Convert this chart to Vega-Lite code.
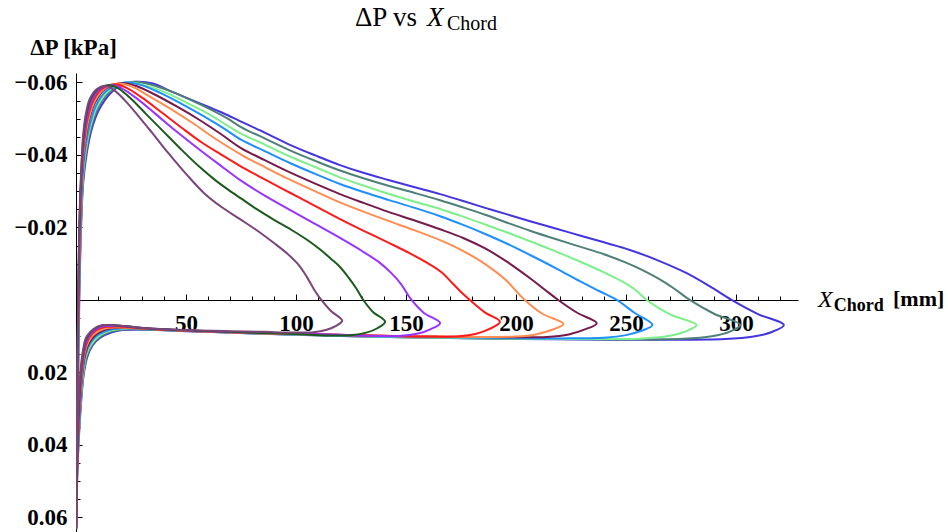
{
"$schema": "https://vega.github.io/schema/vega-lite/v6.json",
"width": 722, "height": 459,
"autosize": {"type": "none"},
"padding": {"left": 76, "top": 73, "right": 150, "bottom": 0},
"background": "white",
"config": {"view": {"stroke": null}, "axis": {"labelOverlap": false, "labelFlush": false, "grid": false}},
"resolve": {"axis": {"x": "independent", "y": "independent"}},
"datasets": {"curves": [
{"s":"a","x":0.1,"dp":0.063},{"s":"a","x":0.5,"dp":0.04},{"s":"a","x":1.0,"dp":0.02},{"s":"a","x":1.5,"dp":0.0},{"s":"a","x":2.3,"dp":-0.02},{"s":"a","x":3.3,"dp":-0.0325},{"s":"a","x":4.9,"dp":-0.0405},{"s":"a","x":7.1,"dp":-0.047},{"s":"a","x":10.5,"dp":-0.0525},{"s":"a","x":16,"dp":-0.0572},{"s":"a","x":21,"dp":-0.0594},{"s":"a","x":27.6,"dp":-0.0602},{"s":"a","x":35,"dp":-0.0597},{"s":"a","x":43,"dp":-0.0576},{"s":"a","x":50,"dp":-0.0558},{"s":"a","x":58,"dp":-0.0538},{"s":"a","x":67,"dp":-0.0515},{"s":"a","x":75,"dp":-0.0492},{"s":"a","x":86,"dp":-0.0461},{"s":"a","x":97.5,"dp":-0.0427},{"s":"a","x":109,"dp":-0.0398},{"s":"a","x":120,"dp":-0.0372},{"s":"a","x":131,"dp":-0.035},{"s":"a","x":142,"dp":-0.0331},{"s":"a","x":154,"dp":-0.0311},{"s":"a","x":165.5,"dp":-0.0292},{"s":"a","x":176,"dp":-0.0273},{"s":"a","x":186,"dp":-0.0254},{"s":"a","x":196,"dp":-0.0236},{"s":"a","x":206.4,"dp":-0.0217},{"s":"a","x":218,"dp":-0.0197},{"s":"a","x":229,"dp":-0.0178},{"s":"a","x":240,"dp":-0.0159},{"s":"a","x":251.8,"dp":-0.0138},{"s":"a","x":265,"dp":-0.0108},{"s":"a","x":277.6,"dp":-0.0074},{"s":"a","x":288,"dp":-0.0038},{"s":"a","x":298,"dp":0.0},{"s":"a","x":310,"dp":0.0039},{"s":"a","x":321.8,"dp":0.0069},
{"s":"a","x":316,"dp":0.0089},{"s":"a","x":308,"dp":0.0101},{"s":"a","x":295,"dp":0.0108},{"s":"a","x":265,"dp":0.011},{"s":"a","x":230,"dp":0.0109},{"s":"a","x":195,"dp":0.0107},{"s":"a","x":160,"dp":0.0104},{"s":"a","x":125,"dp":0.01},{"s":"a","x":95,"dp":0.0095},{"s":"a","x":70,"dp":0.009},{"s":"a","x":50,"dp":0.0086},{"s":"a","x":37,"dp":0.0083},{"s":"a","x":28,"dp":0.0082},{"s":"a","x":21,"dp":0.0083},{"s":"a","x":16,"dp":0.009},{"s":"a","x":11,"dp":0.0104},{"s":"a","x":7.6,"dp":0.0125},{"s":"a","x":5.2,"dp":0.0156},{"s":"a","x":3.5,"dp":0.0206},{"s":"a","x":2.4,"dp":0.0276},{"s":"a","x":1.35,"dp":0.0376},{"s":"a","x":0.6,"dp":0.048},{"s":"a","x":0.1,"dp":0.063},

{"s":"b","x":0.1,"dp":0.063},{"s":"b","x":0.5,"dp":0.04},{"s":"b","x":0.95,"dp":0.02},{"s":"b","x":1.4,"dp":0.0},{"s":"b","x":2.2,"dp":-0.02},{"s":"b","x":3.2,"dp":-0.033},{"s":"b","x":4.7,"dp":-0.041},{"s":"b","x":6.8,"dp":-0.0474},{"s":"b","x":10,"dp":-0.053},{"s":"b","x":15.5,"dp":-0.0575},{"s":"b","x":25,"dp":-0.0601},{"s":"b","x":32,"dp":-0.0597},{"s":"b","x":42,"dp":-0.0578},{"s":"b","x":52,"dp":-0.0552},{"s":"b","x":62,"dp":-0.0523},{"s":"b","x":69,"dp":-0.05},{"s":"b","x":75,"dp":-0.0477},{"s":"b","x":86,"dp":-0.0445},{"s":"b","x":97.5,"dp":-0.0412},{"s":"b","x":109,"dp":-0.0383},{"s":"b","x":120,"dp":-0.0357},{"s":"b","x":131,"dp":-0.0335},{"s":"b","x":142,"dp":-0.0315},{"s":"b","x":154,"dp":-0.0295},{"s":"b","x":165.5,"dp":-0.0275},{"s":"b","x":176,"dp":-0.0255},{"s":"b","x":186,"dp":-0.0235},{"s":"b","x":196,"dp":-0.0213},{"s":"b","x":206.4,"dp":-0.0191},{"s":"b","x":218,"dp":-0.0168},{"s":"b","x":229,"dp":-0.0147},{"s":"b","x":240,"dp":-0.0126},{"s":"b","x":250,"dp":-0.0103},{"s":"b","x":258,"dp":-0.0081},{"s":"b","x":265,"dp":-0.0058},{"s":"b","x":272,"dp":-0.0031},{"s":"b","x":279,"dp":0.0},{"s":"b","x":290,"dp":0.0038},{"s":"b","x":302,"dp":0.0069},
{"s":"b","x":297,"dp":0.0088},{"s":"b","x":289,"dp":0.01},{"s":"b","x":276,"dp":0.0107},{"s":"b","x":250,"dp":0.0109},{"s":"b","x":220,"dp":0.0108},{"s":"b","x":185,"dp":0.0106},{"s":"b","x":150,"dp":0.0103},{"s":"b","x":120,"dp":0.0099},{"s":"b","x":90,"dp":0.0094},{"s":"b","x":66,"dp":0.0089},{"s":"b","x":48,"dp":0.0085},{"s":"b","x":35,"dp":0.0082},{"s":"b","x":26,"dp":0.0081},{"s":"b","x":20,"dp":0.0082},{"s":"b","x":15,"dp":0.0089},{"s":"b","x":10.5,"dp":0.0103},{"s":"b","x":7.3,"dp":0.0124},{"s":"b","x":5,"dp":0.0154},{"s":"b","x":3.4,"dp":0.0204},{"s":"b","x":2.3,"dp":0.0274},{"s":"b","x":1.3,"dp":0.0374},{"s":"b","x":0.55,"dp":0.048},{"s":"b","x":0.1,"dp":0.063},

{"s":"c","x":0.1,"dp":0.063},{"s":"c","x":0.45,"dp":0.04},{"s":"c","x":0.9,"dp":0.02},{"s":"c","x":1.35,"dp":0.0},{"s":"c","x":2.1,"dp":-0.02},{"s":"c","x":3.1,"dp":-0.0335},{"s":"c","x":4.5,"dp":-0.0415},{"s":"c","x":6.5,"dp":-0.0478},{"s":"c","x":9.5,"dp":-0.0532},{"s":"c","x":14.5,"dp":-0.0575},{"s":"c","x":23,"dp":-0.06},{"s":"c","x":30,"dp":-0.0594},{"s":"c","x":40,"dp":-0.0574},{"s":"c","x":50,"dp":-0.0545},{"s":"c","x":60,"dp":-0.0514},{"s":"c","x":68,"dp":-0.0484},{"s":"c","x":75,"dp":-0.0459},{"s":"c","x":86,"dp":-0.0428},{"s":"c","x":97.5,"dp":-0.0395},{"s":"c","x":109,"dp":-0.0366},{"s":"c","x":120,"dp":-0.0338},{"s":"c","x":131,"dp":-0.0315},{"s":"c","x":142,"dp":-0.0293},{"s":"c","x":154,"dp":-0.0271},{"s":"c","x":165.5,"dp":-0.0251},{"s":"c","x":176,"dp":-0.023},{"s":"c","x":186,"dp":-0.0208},{"s":"c","x":196,"dp":-0.0186},{"s":"c","x":206.4,"dp":-0.0162},{"s":"c","x":218,"dp":-0.0134},{"s":"c","x":229,"dp":-0.0106},{"s":"c","x":240,"dp":-0.0076},{"s":"c","x":248,"dp":-0.0052},{"s":"c","x":254,"dp":-0.0029},{"s":"c","x":259.4,"dp":0.0},{"s":"c","x":270,"dp":0.004},{"s":"c","x":282.1,"dp":0.0069},
{"s":"c","x":277,"dp":0.0087},{"s":"c","x":270,"dp":0.0099},{"s":"c","x":258,"dp":0.0106},{"s":"c","x":235,"dp":0.0108},{"s":"c","x":205,"dp":0.0107},{"s":"c","x":175,"dp":0.0105},{"s":"c","x":145,"dp":0.0102},{"s":"c","x":115,"dp":0.0098},{"s":"c","x":88,"dp":0.0093},{"s":"c","x":64,"dp":0.0088},{"s":"c","x":46,"dp":0.0084},{"s":"c","x":34,"dp":0.0081},{"s":"c","x":25,"dp":0.008},{"s":"c","x":19,"dp":0.0081},{"s":"c","x":14,"dp":0.0088},{"s":"c","x":10,"dp":0.0102},{"s":"c","x":7,"dp":0.0122},{"s":"c","x":4.7,"dp":0.0152},{"s":"c","x":3.3,"dp":0.0202},{"s":"c","x":2.2,"dp":0.0272},{"s":"c","x":1.25,"dp":0.0372},{"s":"c","x":0.55,"dp":0.048},{"s":"c","x":0.1,"dp":0.063},

{"s":"d","x":0.1,"dp":0.063},{"s":"d","x":0.45,"dp":0.04},{"s":"d","x":0.85,"dp":0.02},{"s":"d","x":1.3,"dp":0.0},{"s":"d","x":2,"dp":-0.02},{"s":"d","x":3,"dp":-0.034},{"s":"d","x":4.3,"dp":-0.042},{"s":"d","x":6.2,"dp":-0.0482},{"s":"d","x":9,"dp":-0.0535},{"s":"d","x":13.5,"dp":-0.0575},{"s":"d","x":22,"dp":-0.06},{"s":"d","x":29,"dp":-0.0594},{"s":"d","x":38,"dp":-0.0572},{"s":"d","x":48,"dp":-0.0541},{"s":"d","x":58,"dp":-0.0507},{"s":"d","x":67,"dp":-0.0474},{"s":"d","x":75,"dp":-0.0442},{"s":"d","x":86,"dp":-0.041},{"s":"d","x":97.5,"dp":-0.0377},{"s":"d","x":109,"dp":-0.0347},{"s":"d","x":120,"dp":-0.032},{"s":"d","x":131,"dp":-0.0297},{"s":"d","x":142,"dp":-0.0276},{"s":"d","x":154,"dp":-0.0254},{"s":"d","x":165.5,"dp":-0.0231},{"s":"d","x":176,"dp":-0.0207},{"s":"d","x":186,"dp":-0.0182},{"s":"d","x":196,"dp":-0.0155},{"s":"d","x":206.4,"dp":-0.0124},{"s":"d","x":218,"dp":-0.0088},{"s":"d","x":229,"dp":-0.0052},{"s":"d","x":238,"dp":-0.0024},{"s":"d","x":245.8,"dp":0.0},{"s":"d","x":254,"dp":0.0036},{"s":"d","x":262,"dp":0.0069},
{"s":"d","x":257,"dp":0.0085},{"s":"d","x":250,"dp":0.0097},{"s":"d","x":240,"dp":0.0104},{"s":"d","x":220,"dp":0.0106},{"s":"d","x":195,"dp":0.0105},{"s":"d","x":165,"dp":0.0103},{"s":"d","x":135,"dp":0.01},{"s":"d","x":105,"dp":0.0096},{"s":"d","x":80,"dp":0.0092},{"s":"d","x":58,"dp":0.0087},{"s":"d","x":42,"dp":0.0083},{"s":"d","x":31,"dp":0.008},{"s":"d","x":23,"dp":0.0079},{"s":"d","x":17,"dp":0.008},{"s":"d","x":13,"dp":0.0087},{"s":"d","x":9.2,"dp":0.01},{"s":"d","x":6.4,"dp":0.012},{"s":"d","x":4.4,"dp":0.015},{"s":"d","x":3.1,"dp":0.02},{"s":"d","x":2.1,"dp":0.027},{"s":"d","x":1.2,"dp":0.037},{"s":"d","x":0.5,"dp":0.048},{"s":"d","x":0.1,"dp":0.063},

{"s":"e","x":0.1,"dp":0.063},{"s":"e","x":0.4,"dp":0.04},{"s":"e","x":0.8,"dp":0.02},{"s":"e","x":1.2,"dp":0.0},{"s":"e","x":1.9,"dp":-0.02},{"s":"e","x":2.8,"dp":-0.035},{"s":"e","x":4,"dp":-0.0428},{"s":"e","x":5.7,"dp":-0.049},{"s":"e","x":8.3,"dp":-0.054},{"s":"e","x":12.5,"dp":-0.0578},{"s":"e","x":20,"dp":-0.0598},{"s":"e","x":27,"dp":-0.0591},{"s":"e","x":36,"dp":-0.0566},{"s":"e","x":46,"dp":-0.0533},{"s":"e","x":56,"dp":-0.0497},{"s":"e","x":66,"dp":-0.0457},{"s":"e","x":75,"dp":-0.0419},{"s":"e","x":86,"dp":-0.0385},{"s":"e","x":97.5,"dp":-0.0351},{"s":"e","x":109,"dp":-0.032},{"s":"e","x":120,"dp":-0.0292},{"s":"e","x":131,"dp":-0.0267},{"s":"e","x":142,"dp":-0.0243},{"s":"e","x":154,"dp":-0.0219},{"s":"e","x":165.5,"dp":-0.0195},{"s":"e","x":176,"dp":-0.0171},{"s":"e","x":186,"dp":-0.0142},{"s":"e","x":196,"dp":-0.0105},{"s":"e","x":206.4,"dp":-0.006},{"s":"e","x":213,"dp":-0.0029},{"s":"e","x":219.2,"dp":0.0},{"s":"e","x":228,"dp":0.0036},{"s":"e","x":236.7,"dp":0.0064},
{"s":"e","x":231,"dp":0.0082},{"s":"e","x":224,"dp":0.0095},{"s":"e","x":214,"dp":0.0102},{"s":"e","x":198,"dp":0.0103},{"s":"e","x":175,"dp":0.0102},{"s":"e","x":150,"dp":0.01},{"s":"e","x":125,"dp":0.0097},{"s":"e","x":100,"dp":0.0094},{"s":"e","x":75,"dp":0.009},{"s":"e","x":55,"dp":0.0086},{"s":"e","x":40,"dp":0.0082},{"s":"e","x":30,"dp":0.0079},{"s":"e","x":22,"dp":0.0077},{"s":"e","x":16,"dp":0.0078},{"s":"e","x":12,"dp":0.0085},{"s":"e","x":8.6,"dp":0.0098},{"s":"e","x":6,"dp":0.0118},{"s":"e","x":4.2,"dp":0.0148},{"s":"e","x":2.9,"dp":0.0198},{"s":"e","x":2,"dp":0.0268},{"s":"e","x":1.1,"dp":0.0368},{"s":"e","x":0.5,"dp":0.048},{"s":"e","x":0.1,"dp":0.063},

{"s":"f","x":0.1,"dp":0.063},{"s":"f","x":0.4,"dp":0.04},{"s":"f","x":0.75,"dp":0.02},{"s":"f","x":1.15,"dp":0.0},{"s":"f","x":1.8,"dp":-0.02},{"s":"f","x":2.7,"dp":-0.035},{"s":"f","x":3.9,"dp":-0.043},{"s":"f","x":5.5,"dp":-0.0492},{"s":"f","x":8,"dp":-0.0542},{"s":"f","x":12,"dp":-0.0578},{"s":"f","x":19,"dp":-0.0597},{"s":"f","x":25,"dp":-0.059},{"s":"f","x":33,"dp":-0.0563},{"s":"f","x":43,"dp":-0.0527},{"s":"f","x":53,"dp":-0.0488},{"s":"f","x":63,"dp":-0.0446},{"s":"f","x":75,"dp":-0.0401},{"s":"f","x":86,"dp":-0.0366},{"s":"f","x":97.5,"dp":-0.0331},{"s":"f","x":109,"dp":-0.0299},{"s":"f","x":120,"dp":-0.0269},{"s":"f","x":131,"dp":-0.0243},{"s":"f","x":142,"dp":-0.0218},{"s":"f","x":154,"dp":-0.0192},{"s":"f","x":165.5,"dp":-0.0165},{"s":"f","x":176,"dp":-0.0135},{"s":"f","x":186,"dp":-0.0099},{"s":"f","x":195,"dp":-0.0057},{"s":"f","x":204,"dp":0.0},{"s":"f","x":212,"dp":0.0038},{"s":"f","x":221.5,"dp":0.0066},
{"s":"f","x":216,"dp":0.0083},{"s":"f","x":209,"dp":0.0095},{"s":"f","x":200,"dp":0.0101},{"s":"f","x":185,"dp":0.0102},{"s":"f","x":165,"dp":0.0101},{"s":"f","x":140,"dp":0.0099},{"s":"f","x":115,"dp":0.0096},{"s":"f","x":90,"dp":0.0093},{"s":"f","x":70,"dp":0.009},{"s":"f","x":50,"dp":0.0085},{"s":"f","x":36,"dp":0.0081},{"s":"f","x":27,"dp":0.0078},{"s":"f","x":20,"dp":0.0076},{"s":"f","x":15,"dp":0.0077},{"s":"f","x":11,"dp":0.0084},{"s":"f","x":8,"dp":0.0096},{"s":"f","x":5.7,"dp":0.0115},{"s":"f","x":4,"dp":0.0145},{"s":"f","x":2.8,"dp":0.0195},{"s":"f","x":1.9,"dp":0.0265},{"s":"f","x":1.05,"dp":0.0365},{"s":"f","x":0.45,"dp":0.048},{"s":"f","x":0.1,"dp":0.063},

{"s":"g","x":0.1,"dp":0.063},{"s":"g","x":0.35,"dp":0.04},{"s":"g","x":0.7,"dp":0.02},{"s":"g","x":1.1,"dp":0.0},{"s":"g","x":1.7,"dp":-0.02},{"s":"g","x":2.6,"dp":-0.035},{"s":"g","x":3.7,"dp":-0.0435},{"s":"g","x":5.2,"dp":-0.0498},{"s":"g","x":7.5,"dp":-0.0545},{"s":"g","x":11,"dp":-0.0578},{"s":"g","x":17.5,"dp":-0.0595},{"s":"g","x":23,"dp":-0.0585},{"s":"g","x":30,"dp":-0.0558},{"s":"g","x":39,"dp":-0.0517},{"s":"g","x":48,"dp":-0.0475},{"s":"g","x":57,"dp":-0.0435},{"s":"g","x":66,"dp":-0.0401},{"s":"g","x":75,"dp":-0.0368},{"s":"g","x":86,"dp":-0.0332},{"s":"g","x":97.5,"dp":-0.0295},{"s":"g","x":109,"dp":-0.0258},{"s":"g","x":120,"dp":-0.0223},{"s":"g","x":131,"dp":-0.019},{"s":"g","x":142,"dp":-0.0158},{"s":"g","x":152,"dp":-0.0128},{"s":"g","x":160,"dp":-0.0101},{"s":"g","x":166,"dp":-0.0077},{"s":"g","x":171,"dp":-0.0047},{"s":"g","x":175.5,"dp":-0.0019},{"s":"g","x":179,"dp":0.0},{"s":"g","x":186,"dp":0.0035},{"s":"g","x":192.7,"dp":0.006},
{"s":"g","x":188,"dp":0.008},{"s":"g","x":182,"dp":0.0093},{"s":"g","x":174,"dp":0.01},{"s":"g","x":160,"dp":0.0101},{"s":"g","x":140,"dp":0.0099},{"s":"g","x":120,"dp":0.0096},{"s":"g","x":100,"dp":0.0093},{"s":"g","x":80,"dp":0.009},{"s":"g","x":60,"dp":0.0086},{"s":"g","x":45,"dp":0.0083},{"s":"g","x":33,"dp":0.0079},{"s":"g","x":25,"dp":0.0076},{"s":"g","x":19,"dp":0.0073},{"s":"g","x":14,"dp":0.0074},{"s":"g","x":10,"dp":0.0081},{"s":"g","x":7.4,"dp":0.0093},{"s":"g","x":5.3,"dp":0.0112},{"s":"g","x":3.8,"dp":0.0142},{"s":"g","x":2.7,"dp":0.0192},{"s":"g","x":1.8,"dp":0.0262},{"s":"g","x":1,"dp":0.0362},{"s":"g","x":0.45,"dp":0.048},{"s":"g","x":0.1,"dp":0.063},

{"s":"h","x":0.1,"dp":0.063},{"s":"h","x":0.35,"dp":0.04},{"s":"h","x":0.65,"dp":0.02},{"s":"h","x":1.05,"dp":0.0},{"s":"h","x":1.6,"dp":-0.02},{"s":"h","x":2.5,"dp":-0.035},{"s":"h","x":3.5,"dp":-0.044},{"s":"h","x":4.9,"dp":-0.0502},{"s":"h","x":7,"dp":-0.0548},{"s":"h","x":10.5,"dp":-0.058},{"s":"h","x":16,"dp":-0.0593},{"s":"h","x":21,"dp":-0.0583},{"s":"h","x":28,"dp":-0.0554},{"s":"h","x":36,"dp":-0.0514},{"s":"h","x":45,"dp":-0.0468},{"s":"h","x":55,"dp":-0.042},{"s":"h","x":65,"dp":-0.0374},{"s":"h","x":75,"dp":-0.0329},{"s":"h","x":86,"dp":-0.0287},{"s":"h","x":97,"dp":-0.0249},{"s":"h","x":108,"dp":-0.0212},{"s":"h","x":120,"dp":-0.0171},{"s":"h","x":130,"dp":-0.0135},{"s":"h","x":138,"dp":-0.0103},{"s":"h","x":143,"dp":-0.0076},{"s":"h","x":147.5,"dp":-0.0046},{"s":"h","x":152.5,"dp":0.0},{"s":"h","x":158,"dp":0.0035},{"s":"h","x":165.5,"dp":0.0064},
{"s":"h","x":161,"dp":0.0081},{"s":"h","x":156,"dp":0.0092},{"s":"h","x":148,"dp":0.0099},{"s":"h","x":135,"dp":0.0099},{"s":"h","x":120,"dp":0.0096},{"s":"h","x":100,"dp":0.0093},{"s":"h","x":80,"dp":0.009},{"s":"h","x":60,"dp":0.0086},{"s":"h","x":45,"dp":0.0082},{"s":"h","x":32,"dp":0.0078},{"s":"h","x":24,"dp":0.0074},{"s":"h","x":18,"dp":0.0071},{"s":"h","x":13,"dp":0.0072},{"s":"h","x":9.5,"dp":0.0079},{"s":"h","x":7,"dp":0.0091},{"s":"h","x":5,"dp":0.011},{"s":"h","x":3.6,"dp":0.014},{"s":"h","x":2.5,"dp":0.019},{"s":"h","x":1.7,"dp":0.026},{"s":"h","x":0.95,"dp":0.036},{"s":"h","x":0.4,"dp":0.048},{"s":"h","x":0.1,"dp":0.063},

{"s":"i","x":0.1,"dp":0.063},{"s":"i","x":0.3,"dp":0.04},{"s":"i","x":0.6,"dp":0.02},{"s":"i","x":1.0,"dp":0.0},{"s":"i","x":1.5,"dp":-0.02},{"s":"i","x":2.4,"dp":-0.035},{"s":"i","x":3.3,"dp":-0.0445},{"s":"i","x":4.6,"dp":-0.0508},{"s":"i","x":6.6,"dp":-0.0553},{"s":"i","x":10,"dp":-0.0582},{"s":"i","x":15,"dp":-0.0592},{"s":"i","x":19,"dp":-0.0584},{"s":"i","x":25,"dp":-0.0555},{"s":"i","x":32,"dp":-0.0512},{"s":"i","x":40,"dp":-0.0463},{"s":"i","x":48,"dp":-0.0414},{"s":"i","x":56,"dp":-0.0368},{"s":"i","x":63,"dp":-0.0332},{"s":"i","x":69,"dp":-0.0305},{"s":"i","x":75,"dp":-0.028},{"s":"i","x":82,"dp":-0.0251},{"s":"i","x":90,"dp":-0.0221},{"s":"i","x":98,"dp":-0.0193},{"s":"i","x":105,"dp":-0.0166},{"s":"i","x":111,"dp":-0.0139},{"s":"i","x":116,"dp":-0.0113},{"s":"i","x":120,"dp":-0.0091},{"s":"i","x":124,"dp":-0.0061},{"s":"i","x":127.5,"dp":-0.0031},{"s":"i","x":130.6,"dp":0.0},{"s":"i","x":135,"dp":0.0033},{"s":"i","x":140.5,"dp":0.006},
{"s":"i","x":137,"dp":0.0078},{"s":"i","x":132,"dp":0.009},{"s":"i","x":125,"dp":0.0097},{"s":"i","x":115,"dp":0.0098},{"s":"i","x":100,"dp":0.0094},{"s":"i","x":85,"dp":0.0091},{"s":"i","x":70,"dp":0.0088},{"s":"i","x":55,"dp":0.0085},{"s":"i","x":40,"dp":0.0081},{"s":"i","x":30,"dp":0.0077},{"s":"i","x":22,"dp":0.0072},{"s":"i","x":16,"dp":0.0069},{"s":"i","x":12,"dp":0.007},{"s":"i","x":9,"dp":0.0077},{"s":"i","x":6.6,"dp":0.0089},{"s":"i","x":4.6,"dp":0.0108},{"s":"i","x":3.4,"dp":0.0138},{"s":"i","x":2.4,"dp":0.0185},{"s":"i","x":1.6,"dp":0.0255},{"s":"i","x":0.9,"dp":0.0355},{"s":"i","x":0.35,"dp":0.048},{"s":"i","x":0.05,"dp":0.063},

{"s":"j","x":0.1,"dp":0.063},{"s":"j","x":0.3,"dp":0.04},{"s":"j","x":0.6,"dp":0.02},{"s":"j","x":1.0,"dp":0.0},{"s":"j","x":1.5,"dp":-0.02},{"s":"j","x":2.3,"dp":-0.035},{"s":"j","x":3.2,"dp":-0.045},{"s":"j","x":4.4,"dp":-0.051},{"s":"j","x":6.3,"dp":-0.0555},{"s":"j","x":9.5,"dp":-0.0582},{"s":"j","x":13.5,"dp":-0.059},{"s":"j","x":17,"dp":-0.058},{"s":"j","x":22,"dp":-0.0552},{"s":"j","x":28,"dp":-0.051},{"s":"j","x":35,"dp":-0.0458},{"s":"j","x":42,"dp":-0.0405},{"s":"j","x":50,"dp":-0.0348},{"s":"j","x":58,"dp":-0.0296},{"s":"j","x":66,"dp":-0.0257},{"s":"j","x":74,"dp":-0.0225},{"s":"j","x":82,"dp":-0.0193},{"s":"j","x":90,"dp":-0.0157},{"s":"j","x":96,"dp":-0.0128},{"s":"j","x":101,"dp":-0.0098},{"s":"j","x":105,"dp":-0.0063},{"s":"j","x":108.5,"dp":-0.0026},{"s":"j","x":111.5,"dp":0.0},{"s":"j","x":116,"dp":0.0031},{"s":"j","x":121,"dp":0.0057},
{"s":"j","x":118,"dp":0.0072},{"s":"j","x":114,"dp":0.0082},{"s":"j","x":108,"dp":0.0089},{"s":"j","x":100,"dp":0.009},{"s":"j","x":85,"dp":0.0088},{"s":"j","x":70,"dp":0.0086},{"s":"j","x":55,"dp":0.0084},{"s":"j","x":40,"dp":0.0081},{"s":"j","x":30,"dp":0.0077},{"s":"j","x":22,"dp":0.0072},{"s":"j","x":16,"dp":0.0069},{"s":"j","x":12,"dp":0.007},{"s":"j","x":9,"dp":0.0076},{"s":"j","x":6.5,"dp":0.0088},{"s":"j","x":4.5,"dp":0.0105},{"s":"j","x":3.3,"dp":0.0135},{"s":"j","x":2.3,"dp":0.018},{"s":"j","x":1.5,"dp":0.025},{"s":"j","x":0.8,"dp":0.035},{"s":"j","x":0.3,"dp":0.048},{"s":"j","x":0,"dp":0.063}
]},
"layer": [
{
"data": {"name": "curves"},
"mark": {"type": "line", "strokeWidth": 2, "clip": true, "interpolate": "catmull-rom"},
"encoding": {
"x": {"field": "x", "type": "quantitative",
 "scale": {"domain": [0, 328.2], "nice": false, "zero": false},
 "axis": {"orient": "bottom", "offset": -232, "title": null, "labels": false,
  "values": [10,20,30,40,60,70,80,90,110,120,130,140,160,170,180,190,210,220,230,240,260,270,280,290,310,320],
  "tickSize": -4, "tickColor": "black", "domainColor": "black", "domainWidth": 1}},
"y": {"field": "dp", "type": "quantitative",
 "scale": {"domain": [-0.0626, 0.064], "reverse": true, "nice": false, "zero": false},
 "axis": {"orient": "left", "labels": false,
  "values": [-0.055,-0.05,-0.045,-0.035,-0.03,-0.025,-0.015,-0.01,-0.005,0.005,0.01,0.015,0.025,0.03,0.035,0.045,0.05,0.055],
  "tickSize": -4, "tickColor": "black", "domainColor": "black", "domainWidth": 1,
  "title": "ΔP [kPa]", "titleAngle": 0, "titleX": -3, "titleY": -26, "titleAlign": "center", "titleBaseline": "middle",
  "titleFont": "Liberation Serif", "titleFontWeight": "bold", "titleFontSize": 23, "titleColor": "black"}},
"color": {"field": "s", "type": "nominal",
 "scale": {"domain": ["a","b","c","d","e","f","g","h","i","j"],
  "range": ["#4535e0","#4e8078","#7df08a","#1e8fff","#761a4c","#ff8c50","#ff1a1a","#9933ff","#1d5a1d","#7b4579"]},
 "legend": null},
"order": {"value": null}
}
},
{"data": {"values": [{}]}, "mark": {"type": "text", "text": "ΔP vs", "font": "Liberation Serif", "fontSize": 27, "align": "left", "baseline": "alphabetic", "color": "black"},
 "encoding": {
  "x": {"datum": 126.8, "type": "quantitative",
   "axis": {"orient": "bottom", "offset": -232, "title": null, "domain": false,
    "values": [50,100,150,200,250,300], "tickSize": -6, "tickColor": "black",
    "labelFont": "Liberation Serif", "labelFontWeight": "bold", "labelFontSize": 23, "labelColor": "black",
    "labelPadding": 18, "labelBaseline": "top"}},
  "y": {"datum": -0.0756, "type": "quantitative",
   "axis": {"orient": "left", "title": null, "domain": false,
    "values": [-0.06,-0.04,-0.02,0.02,0.04,0.06], "tickSize": -6, "tickColor": "black",
    "labelExpr": "datum.value < 0 ? '\u2212' + format(-datum.value, '.2f') : format(datum.value, '.2f')",
    "labelFont": "Liberation Serif", "labelFontWeight": "bold", "labelFontSize": 23, "labelColor": "black",
    "labelPadding": 15, "labelBaseline": "middle"}}}},
{"data": {"values": [{}]}, "mark": {"type": "text", "text": "X", "font": "Liberation Serif", "fontStyle": "italic", "fontSize": 27, "align": "left", "baseline": "alphabetic", "color": "black"},
 "encoding": {"x": {"datum": 159.5, "type": "quantitative", "axis": null}, "y": {"datum": -0.0756, "type": "quantitative", "axis": null}}},
{"data": {"values": [{}]}, "mark": {"type": "text", "text": "Chord", "font": "Liberation Serif", "fontSize": 20, "align": "left", "baseline": "alphabetic", "color": "black"},
 "encoding": {"x": {"datum": 168.6, "type": "quantitative", "axis": null}, "y": {"datum": -0.0745, "type": "quantitative", "axis": null}}},
{"data": {"values": [{}]}, "mark": {"type": "text", "text": "X", "font": "Liberation Serif", "fontStyle": "italic", "fontSize": 24, "align": "left", "baseline": "alphabetic", "color": "black"},
 "encoding": {"x": {"datum": 337.3, "type": "quantitative", "axis": null}, "y": {"datum": 0.0019, "type": "quantitative", "axis": null}}},
{"data": {"values": [{}]}, "mark": {"type": "text", "text": "Chord", "font": "Liberation Serif", "fontWeight": "bold", "fontSize": 18, "align": "left", "baseline": "alphabetic", "color": "black"},
 "encoding": {"x": {"datum": 344.5, "type": "quantitative", "axis": null}, "y": {"datum": 0.003, "type": "quantitative", "axis": null}}},
{"data": {"values": [{}]}, "mark": {"type": "text", "text": "[mm]", "font": "Liberation Serif", "fontWeight": "bold", "fontSize": 22, "align": "left", "baseline": "alphabetic", "color": "black"},
 "encoding": {"x": {"datum": 371.4, "type": "quantitative", "axis": null}, "y": {"datum": 0.0017, "type": "quantitative", "axis": null}}}
]
}
